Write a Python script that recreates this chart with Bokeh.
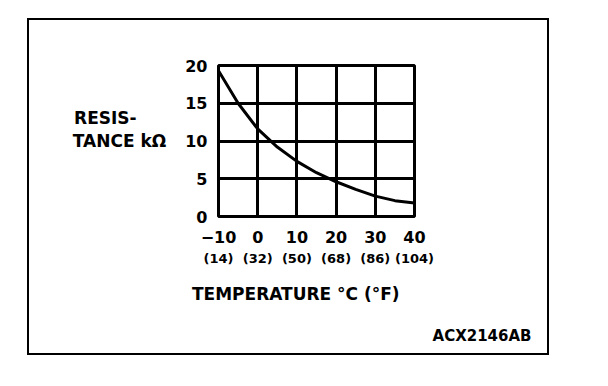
from bokeh.plotting import figure
from bokeh.models import LinearAxis, FixedTicker, Range1d, Title
from bokeh.embed import file_html
from bokeh.resources import INLINE

# ---- data ----
temp_c = [-10, -5, 0, 5, 10, 15, 20, 25, 30, 35, 40]
resistance_kohm = [19.3, 15.0, 11.6, 9.2, 7.3, 5.8, 4.6, 3.6, 2.7, 2.1, 1.8]

x_ticks = [-10, 0, 10, 20, 30, 40]
x_tick_labels_c = ["\u221210", "0", "10", "20", "30", "40"]
x_tick_labels_f = ["(14)", "(32)", "(50)", "(68)", "(86)", "(104)"]
y_ticks = [0, 5, 10, 15, 20]
y_title_lines = ["RESIS-", "TANCE k\u03a9"]
x_title = "TEMPERATURE \u00b0C (\u00b0F)"
figure_code = "ACX2146AB"

FONT = "DejaVu Sans"
NB = "\u00a0"

# figure element 19..557 x 10..363 on the page; the drawn box sits 10px inside
INSET = 10
W, H = 538, 353
FL, FR, FT, FB = 199, 395, 55, 206  # frame edges inside the figure

p = figure(width=W, height=H, output_backend="svg", toolbar_location=None,
           x_range=Range1d(-10, 40), y_range=Range1d(0, 20),
           min_border_left=FL, min_border_right=W - FR,
           min_border_top=FT, min_border_bottom=H - FB,
           x_axis_location=None, y_axis_location=None,
           styles={"position": "relative", "left": "19px", "top": "10px",
                   "outline": "2px solid black",
                   "outline-offset": f"-{INSET}px"})
p.background_fill_color = "white"
p.border_fill_color = None
p.outline_line_color = "black"
p.outline_line_width = 3

# y axis; lines padded so that they read left-aligned, blank third line keeps
# the two text lines above the frame centre as in the reference
y_title = "\n".join([y_title_lines[0] + NB * 5, y_title_lines[1], NB])
ya = LinearAxis(ticker=FixedTicker(ticks=y_ticks), axis_label=y_title)
ya.axis_line_color = None
ya.major_tick_line_color = None
ya.minor_tick_line_color = None
ya.major_label_standoff = 5
ya.major_label_text_font = FONT
ya.major_label_text_font_style = "bold"
ya.major_label_text_font_size = "16px"
ya.major_label_text_color = "black"
ya.axis_label_standoff = 16
ya.axis_label_text_font = FONT
ya.axis_label_text_font_style = "bold"
ya.axis_label_text_font_size = "17px"
ya.axis_label_text_color = "black"
ya.axis_label_text_line_height = 1.15
try:
    ya.axis_label_orientation = "horizontal"
except AttributeError:
    pass
p.add_layout(ya, "left")

# x axis (Celsius)
xa = LinearAxis(ticker=FixedTicker(ticks=x_ticks),
                major_label_overrides={t: s for t, s in zip(x_ticks, x_tick_labels_c)})
xa.axis_line_color = None
xa.major_tick_line_color = None
xa.minor_tick_line_color = None
xa.major_label_standoff = 8
xa.major_label_text_font = FONT
xa.major_label_text_font_style = "bold"
xa.major_label_text_font_size = "16px"
xa.major_label_text_color = "black"
p.add_layout(xa, "below")

# x axis (Fahrenheit)
xf = LinearAxis(ticker=FixedTicker(ticks=x_ticks),
                major_label_overrides={t: s for t, s in zip(x_ticks, x_tick_labels_f)},
                axis_label=x_title + NB * 7)
xf.axis_line_color = None
xf.major_tick_line_color = None
xf.minor_tick_line_color = None
xf.major_label_standoff = -1
xf.major_label_text_font = FONT
xf.major_label_text_font_style = "bold"
xf.major_label_text_font_size = "13px"
xf.major_label_text_color = "black"
xf.axis_label_standoff = 15
xf.axis_label_text_font = FONT
xf.axis_label_text_font_style = "bold"
xf.axis_label_text_font_size = "17px"
xf.axis_label_text_color = "black"
p.add_layout(xf, "below")

# figure code, bottom right
t = Title(text=figure_code, align="right", offset=-117, standoff=37,
          text_font=FONT, text_font_style="bold", text_font_size="15px",
          text_color="black")
p.add_layout(t, "below")

# grid
p.xgrid.ticker = FixedTicker(ticks=x_ticks)
p.ygrid.ticker = FixedTicker(ticks=y_ticks)
for g in (p.xgrid, p.ygrid):
    g.grid_line_color = "black"
    g.grid_line_width = 3
    g.grid_line_alpha = 1.0

# curve
p.line(temp_c, resistance_kohm, line_color="black", line_width=3)

open("out.html", "w").write(file_html(p, INLINE))
